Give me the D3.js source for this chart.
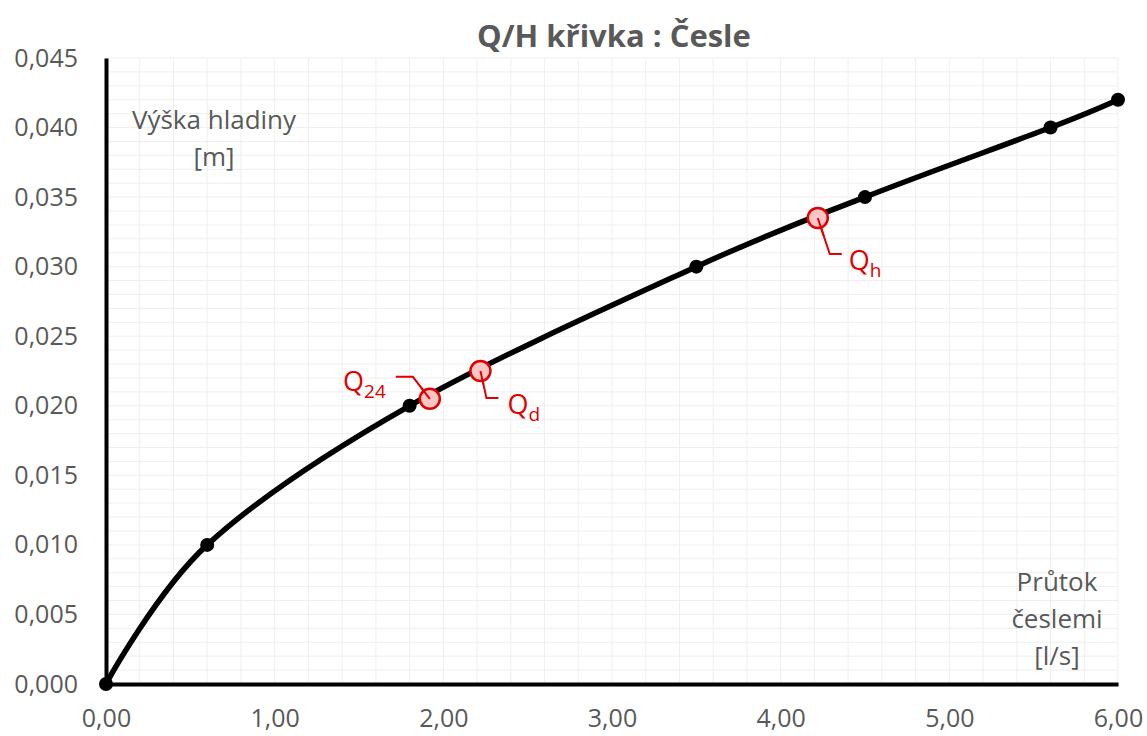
<!DOCTYPE html>
<html><head><meta charset="utf-8">
<script src="https://cdn.jsdelivr.net/npm/d3@7"></script>
<style>
body{margin:0;background:#fff;}
text{font-family:"Open Sans","Noto Sans",sans-serif;}
</style></head>
<body><svg id="c" width="1147" height="736"></svg>
<script>
const flowX = [0, 0.6, 1.8, 3.5, 4.5, 5.6, 6.0];
const levelY = [0, 0.010, 0.020, 0.030, 0.035, 0.040, 0.042];
const markName = ["Q", "Q", "Q"];
const markSub = ["24", "d", "h"];
const markX = [1.92, 2.22, 4.22];
const markY = [0.0205, 0.0225, 0.0335];
const xTicks = [0, 1, 2, 3, 4, 5, 6];
const yTicks = [0, 0.005, 0.010, 0.015, 0.020, 0.025, 0.030, 0.035, 0.040, 0.045];
const title = "Q/H křivka : Česle";
const yTitle = ["Výška hladiny", "[m]"];
const xTitle = ["Průtok", "česlemi", "[l/s]"];

const svg = d3.select("#c");
const L = 106, R = 1118, T = 58, B = 684;
const x = d3.scaleLinear().domain([0, 6]).range([L, R]);
const y = d3.scaleLinear().domain([0, 0.045]).range([B, T]);
const comma = f => v => d3.format(f)(v).replace(".", ",");
const txt = "#595959";

// minor grid
const g = svg.append("g");
g.selectAll(".gx").data(d3.range(0, 30.5, 1).map(i => i * 0.2)).enter().append("line")
  .attr("x1", d => x(d)).attr("x2", d => x(d)).attr("y1", T).attr("y2", B)
  .attr("stroke", "#efefef").attr("stroke-width", 1);
g.selectAll(".gy").data(d3.range(0, 45.5, 1).map(i => i * 0.001)).enter().append("line")
  .attr("y1", d => y(d)).attr("y2", d => y(d)).attr("x1", L).attr("x2", R)
  .attr("stroke", "#efefef").attr("stroke-width", 1);

// axes
svg.append("g").attr("transform", `translate(0,${B})`)
  .call(d3.axisBottom(x).tickValues(xTicks).tickFormat(comma(".2f")).tickSize(0).tickPadding(25))
  .call(a => a.select(".domain").attr("stroke", "#000").attr("stroke-width", 4))
  .call(a => a.selectAll("text").attr("font-size", 25).attr("fill", txt).attr("font-family", "Open Sans"));
svg.append("g").attr("transform", `translate(${L},0)`)
  .call(d3.axisLeft(y).tickValues(yTicks).tickFormat(comma(".3f")).tickSize(0).tickPadding(28))
  .call(a => a.select(".domain").attr("stroke", "#000").attr("stroke-width", 4))
  .call(a => a.selectAll("text").attr("font-size", 25).attr("fill", txt).attr("font-family", "Open Sans"));

// curve
const pts = flowX.map((v, i) => [v, levelY[i]]);
svg.append("path").datum(pts)
  .attr("d", d3.line().x(d => x(d[0])).y(d => y(d[1])).curve(d3.curveCardinal.tension(0)))
  .attr("fill", "none").attr("stroke", "#000").attr("stroke-width", 5.5);
svg.selectAll(".pt").data(pts).enter().append("circle")
  .attr("cx", d => x(d[0])).attr("cy", d => y(d[1])).attr("r", 7).attr("fill", "#000");

// red markers with leaders
const red = "#e00000";
const leaders = [
  (cx, cy) => [[cx, cy], [cx - 17, cy - 22], [cx - 34, cy - 22]],
  (cx, cy) => [[cx, cy], [cx + 6, cy + 27], [cx + 18, cy + 27]],
  (cx, cy) => [[cx, cy], [cx + 12, cy + 36], [cx + 24, cy + 36]]
];
const labelPos = [
  (cx, cy) => [cx - 44, cy - 8, "end"],
  (cx, cy) => [cx + 27, cy + 43, "start"],
  (cx, cy) => [cx + 31, cy + 52, "start"]
];
markX.forEach((mx, i) => {
  const cx = x(mx), cy = y(markY[i]);
  svg.append("path").attr("d", d3.line()(leaders[i](cx, cy)))
    .attr("fill", "none").attr("stroke", red).attr("stroke-width", 2);
  svg.append("circle").attr("cx", cx).attr("cy", cy).attr("r", 10)
    .attr("fill", "#fcc6c6").attr("stroke", red).attr("stroke-width", 2.5);
  svg.append("line").attr("x1", cx).attr("y1", cy).attr("x2", leaders[i](cx, cy)[1][0] * 0.5 + cx * 0.5)
    .attr("y2", leaders[i](cx, cy)[1][1] * 0.5 + cy * 0.5).attr("stroke", red).attr("stroke-width", 2);
  const [tx, ty, anc] = labelPos[i](cx, cy);
  const t = svg.append("text").attr("x", tx).attr("y", ty).attr("text-anchor", anc)
    .attr("fill", red).attr("font-size", 27);
  t.append("tspan").text(markName[i]);
  t.append("tspan").attr("font-size", 19).attr("dy", 7).text(markSub[i]);
});

// titles
svg.append("text").attr("x", 614).attr("y", 47).attr("text-anchor", "middle")
  .attr("font-family", "Roboto Condensed, Liberation Sans Narrow, Roboto, sans-serif")
  .attr("font-weight", "bold").attr("font-size", 31).attr("fill", txt).text(title);
yTitle.forEach((s, i) => svg.append("text").attr("x", 214).attr("y", 129 + i * 37)
  .attr("text-anchor", "middle").attr("font-size", 26).attr("fill", txt).text(s));
xTitle.forEach((s, i) => svg.append("text").attr("x", 1057).attr("y", 591 + i * 37)
  .attr("text-anchor", "middle").attr("font-size", 26).attr("fill", txt).text(s));
</script></body></html>
